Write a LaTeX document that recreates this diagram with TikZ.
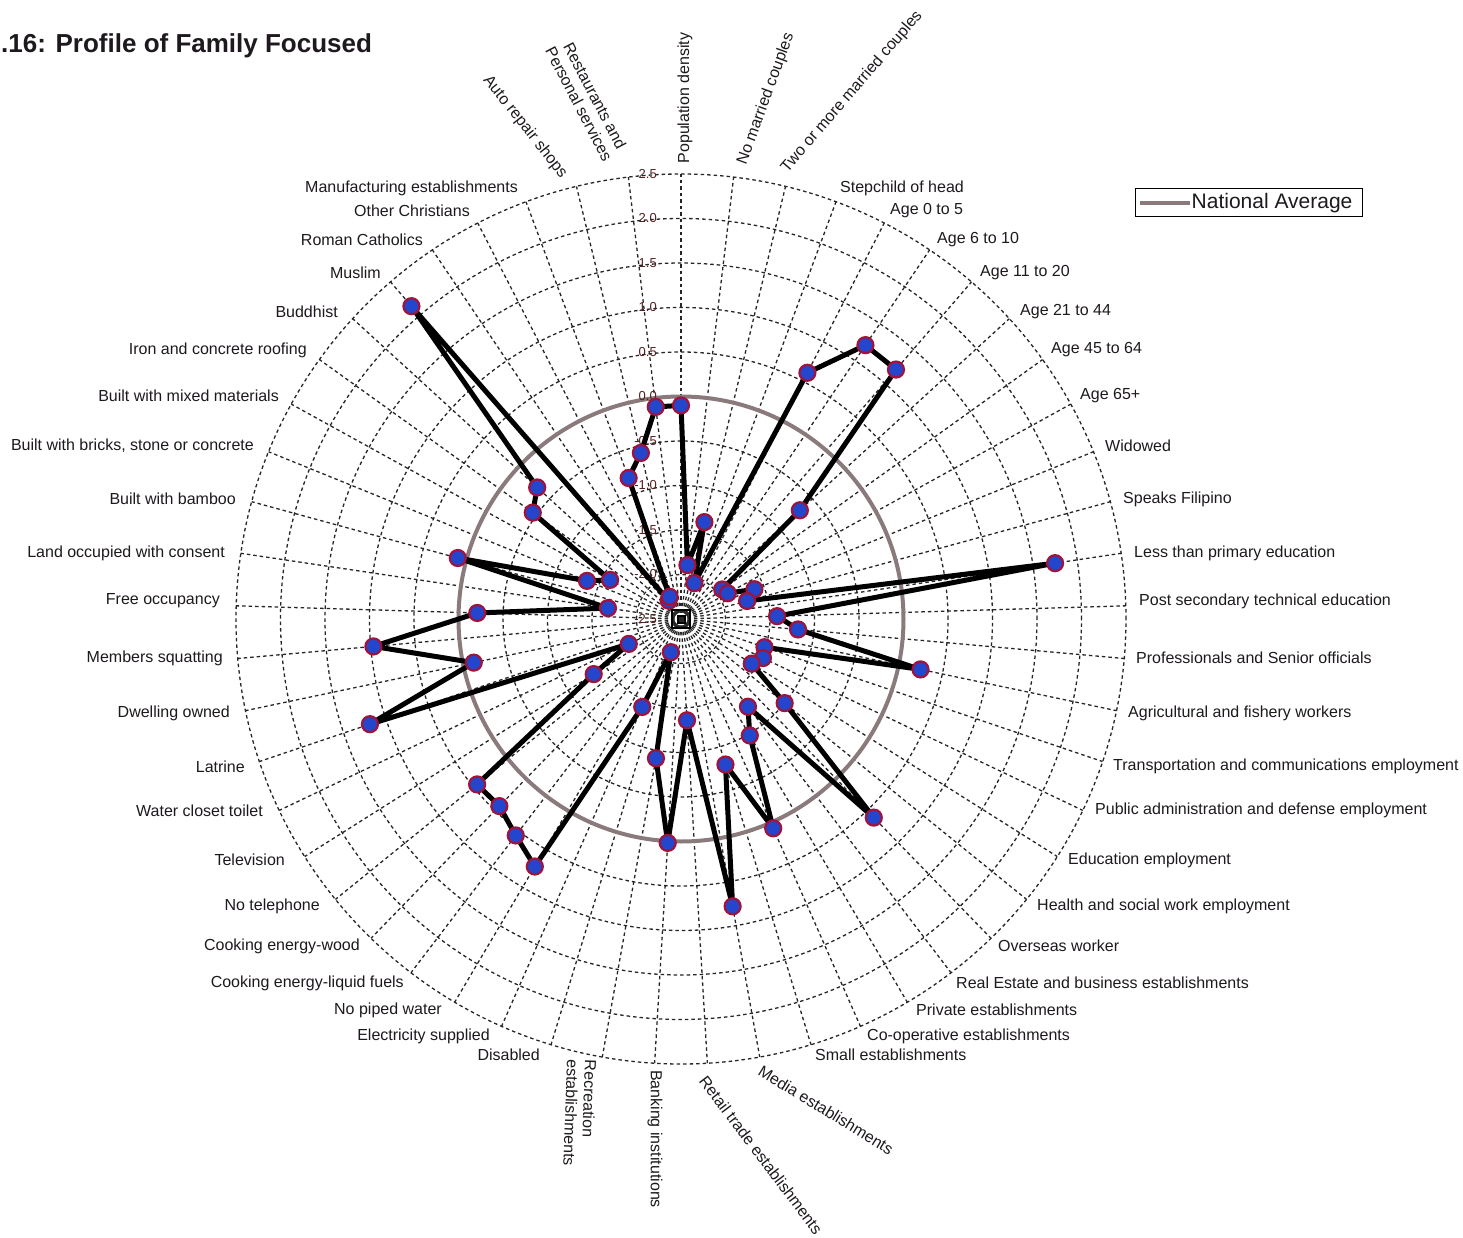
\documentclass[tikz,border=0pt]{standalone}
\usepackage{fontspec}
\setmainfont{Liberation Sans}
\definecolor{navg}{RGB}{138,122,124}
\definecolor{mfill}{RGB}{35,70,205}
\definecolor{mdraw}{RGB}{160,20,60}
\definecolor{scalec}{RGB}{85,30,30}
\definecolor{txtc}{RGB}{30,25,30}
\tikzset{
  gridline/.style={black!85, line width=1.3pt, dash pattern=on 3.5pt off 3pt},
  axlab/.style={font=\fontsize{16}{18}\selectfont, text=txtc, inner sep=0pt},
  scalelab/.style={font=\fontsize{13}{14}\selectfont, text=scalec, inner sep=0pt, anchor=east},
  dataline/.style={black, line width=5pt, line join=round},
  marker/.style={circle, fill=mfill, draw=mdraw, line width=2.2pt, minimum size=16pt, inner sep=0pt},
}
\begin{document}
\begin{tikzpicture}[x=1pt,y=1pt]
\useasboundingbox (-681,-618) rectangle (782,619);
\fill[white] (-681,-618) rectangle (782,619);
% grid
\foreach \k in {1,...,10} \draw[gridline] (0,0) circle ({44.5*\k});
\foreach \i in {0,...,52} \draw[gridline] (0,0) -- ({90-\i*6.792453}:445);
\draw[black, line width=2.4pt] (-9,-9) rectangle (9,9);
\draw[black, line width=2pt] (-3.5,-3.5) rectangle (3.5,3.5);
% national average
\draw[navg, line width=4pt] (0,0) circle (222.5);
% scale labels
\foreach \v/\t [count=\c] in {2.5/2.5,2.0/2.0,1.5/1.5,1.0/1.0,0.5/0.5,0.0/0.0,-0.5/-0.5,-1.0/-1.0,-1.5/-1.5,-2.0/-2.0,-2.5/-2.5}
  \node[scalelab] (sc\c) at (-24,{(\v+2.5)*89}) {\t};
% data
\foreach \v [count=\n from 0] in {-0.10,-1.89,-1.38,-2.07,0.61,1.21,1.20,-0.69,-1.93,-1.90,-1.61,-1.73,1.75,-1.42,-1.18,0.25,-1.51,-1.48,-1.56,-1.00,0.61,-1.26,-0.98,0.07,-0.79,0.78,-1.36,0.02,-0.91,-2.11,-1.42,0.73,0.56,0.43,0.45,-1.34,-1.85,1.19,-0.12,0.97,-0.21,-1.67,0.10,-1.36,-1.59,-0.45,-0.31,2.14,-2.25,-2.22,-0.81,-0.58,-0.10}
  \coordinate (p\n) at ({90-\n*6.792453}:{(\v+2.5)*89});
\draw[dataline] (p0) \foreach \n in {1,...,52} {-- (p\n)} -- cycle;
\foreach \n in {0,...,52} \node[marker] (m\n) at (p\n) {};
% straight axis labels
\foreach \px/\py/\anc/\t [count=\c] in {
  840/188/west/Stepchild of head,
  890/211/west/Age 0 to 5,
  937/240/west/Age 6 to 10,
  980/273/west/Age 11 to 20,
  1020/312/west/Age 21 to 44,
  1051/350/west/Age 45 to 64,
  1080/396/west/Age 65+,
  1105/446/west/Widowed,
  1123/499/west/Speaks Filipino,
  1134/553/west/Less than primary education,
  1139/601/west/Post secondary technical education,
  1136/658/west/Professionals and Senior officials,
  1128/713/west/Agricultural and fishery workers,
  1113/766/west/Transportation and communications employment,
  1095/810/west/Public administration and defense employment,
  1068/860/west/Education employment,
  1037/906/west/Health and social work employment,
  998/946/west/Overseas worker,
  956/983/west/Real Estate and business establishments,
  916/1010/west/Private establishments,
  867/1036/west/Co-operative establishments,
  815/1055/west/Small establishments,
  540/1055/east/Disabled,
  490/1036/east/Electricity supplied,
  442/1010/east/No piped water,
  404/983/east/Cooking energy-liquid fuels,
  360/946/east/Cooking energy-wood,
  320/906/east/No telephone,
  285/860/east/Television,
  263/811/east/Water closet toilet,
  245/767/east/Latrine,
  230/713/east/Dwelling owned,
  223/658/east/Members squatting,
  220/601/east/Free occupancy,
  225/553/east/Land occupied with consent,
  236/499/east/Built with bamboo,
  254/446/east/{Built with bricks, stone or concrete},
  279/396/east/Built with mixed materials,
  307/350/east/Iron and concrete roofing,
  338/312/east/Buddhist,
  381/273/east/Muslim,
  423/240/east/Roman Catholics,
  470/211/east/Other Christians,
  518/188/east/Manufacturing establishments}
  \node[axlab, anchor=\anc] (lab\c) at ({\px-681},{619-\py}) {\t};
% rotated axis labels
\node[axlab, rotate=90] (rl0) at ({685-681},{619-98}) {Population density};
\node[axlab, rotate=70] (rl1) at ({766-681},{619-99}) {No married couples};
\node[axlab, rotate=49.3] (rl2) at ({852-681},{619-92}) {Two or more married couples};
\node[axlab, rotate=-51.6] (rl51) at ({525-681},{619-127}) {Auto repair shops};
\node[axlab, rotate=-62.5, align=center] (rl52) at ({587-681},{619-100}) {Restaurants and\\Personal services};
\node[axlab, rotate=-31.5] (rl25) at ({826-681},{619-1110}) {Media establishments};
\node[axlab, rotate=-53] (rl26) at ({761-681},{619-1155}) {Retail trade establishments};
\node[axlab, rotate=-90] (rl27) at ({655-681},{619-1139}) {Banking institutions};
\node[axlab, rotate=-92, align=left] (rl28) at ({580-681},{619-1113}) {Recreation\\establishments};
% title
\node[anchor=west, font=\bfseries\fontsize{26}{30}\selectfont, text=txtc, inner sep=0pt] (title) at ({1-681},{619-46}) {.16: Profile of Family Focused};
% legend
\node[draw=black, line width=1pt, minimum width=227pt, minimum height=28pt, inner sep=0pt] (legbox) at ({1248.5-681},{619-203}) {};
\coordinate (lga) at ([xshift=5pt]legbox.west);
\coordinate (lgb) at ([xshift=55pt]legbox.west);
\draw[navg, line width=4pt] (lga) -- (lgb);
\node[anchor=west, font=\fontsize{21}{24}\selectfont, text=txtc, inner sep=0pt] (legtxt) at ([xshift=57pt]legbox.west) {National Average};
\end{tikzpicture}
\end{document}
